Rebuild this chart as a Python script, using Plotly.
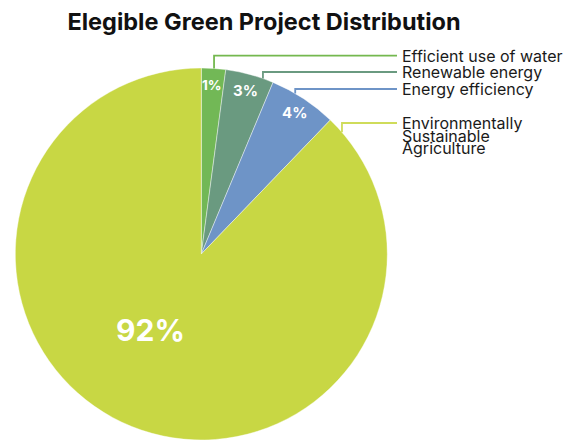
import math
import plotly.graph_objects as go

# ---- data ----
categories = ["Efficient use of water", "Renewable energy", "Energy efficiency",
              "Environmentally Sustainable Agriculture"]
label_lines = [["Efficient use of water"], ["Renewable energy"], ["Energy efficiency"],
               ["Environmentally", "Sustainable", "Agriculture"]]
values = [2.1, 4.2, 5.9, 87.8]
pct_labels = ["1%", "3%", "4%", "92%"]
title_text = "Elegible Green Project Distribution"

# ---- style ----
colors = ["#72b856", "#6a9a80", "#6e94c7", "#c8d744"]
line_colors = ["#74b84f", "#6a9a80", "#6e94c7", "#cfdc5a"]
FONT = "Inter"
W, H = 569, 441
CX, CY, R = 201.3, 254.0, 186.0
leader_frac = [0.52, 0.78, 0.36, 0.0165]   # where on each slice's arc the leader starts
leader_y = [55.7, 72.0, 89.0, 123.0]      # pixel y of each leader's horizontal run
leader_end_x = 397
label_x = 400
label_line_gap = 12.6
pct_radius = [0.91, 0.91, 0.91, 0.49]
pct_angle_offset = [0, 0, 0, 12]
pct_size = [13.5, 15, 15, 30]


def px(x):
    return x / W


def py(y):
    return 1 - y / H


fig = go.Figure(go.Pie(
    labels=categories, values=values, sort=False, direction="clockwise", rotation=0,
    marker=dict(colors=colors, line=dict(color="rgba(255,255,255,0.7)", width=0.6)),
    textinfo="none", hoverinfo="label+percent", showlegend=False,
    domain=dict(x=[px(CX - R), px(CX + R)], y=[py(CY + R), py(CY - R)]),
))

total = sum(values)
cum = 0.0
shapes = []
annotations = []
for i, v in enumerate(values):
    a0 = cum / total * 360
    a1 = (cum + v) / total * 360
    cum += v
    # leader line
    th = math.radians(a0 + (a1 - a0) * leader_frac[i])
    sx = CX + R * math.sin(th)
    sy = CY - R * math.cos(th)
    ly = leader_y[i]
    shapes.append(dict(
        type="path", xref="paper", yref="paper",
        path=f"M {px(sx)},{py(sy)} L {px(sx)},{py(ly)} L {px(leader_end_x)},{py(ly)}",
        line=dict(color=line_colors[i], width=1.8),
    ))
    for j, txt in enumerate(label_lines[i]):
        annotations.append(dict(
            x=px(label_x), y=py(ly + j * label_line_gap), xref="paper", yref="paper",
            text=txt, showarrow=False, xanchor="left", yanchor="middle",
            font=dict(family=FONT, size=16, color="#1a1a1a"),
        ))
    # percentage label
    tm = math.radians((a0 + a1) / 2 + pct_angle_offset[i])
    tx = CX + R * pct_radius[i] * math.sin(tm)
    ty = CY - R * pct_radius[i] * math.cos(tm)
    annotations.append(dict(
        x=px(tx), y=py(ty), xref="paper", yref="paper", text=f"<b>{pct_labels[i]}</b>",
        showarrow=False, xanchor="center", yanchor="middle",
        font=dict(family=FONT, size=pct_size[i], color="white"),
    ))

fig.update_layout(
    width=W, height=H, margin=dict(l=0, r=0, t=0, b=0),
    paper_bgcolor="white", plot_bgcolor="white",
    title=dict(text=f"<b>{title_text}</b>", x=264 / W, xanchor="center",
               y=py(22), yanchor="middle", font=dict(family=FONT, size=23.5, color="#111111")),
    shapes=shapes, annotations=annotations,
)

fig.write_html("out.html")
